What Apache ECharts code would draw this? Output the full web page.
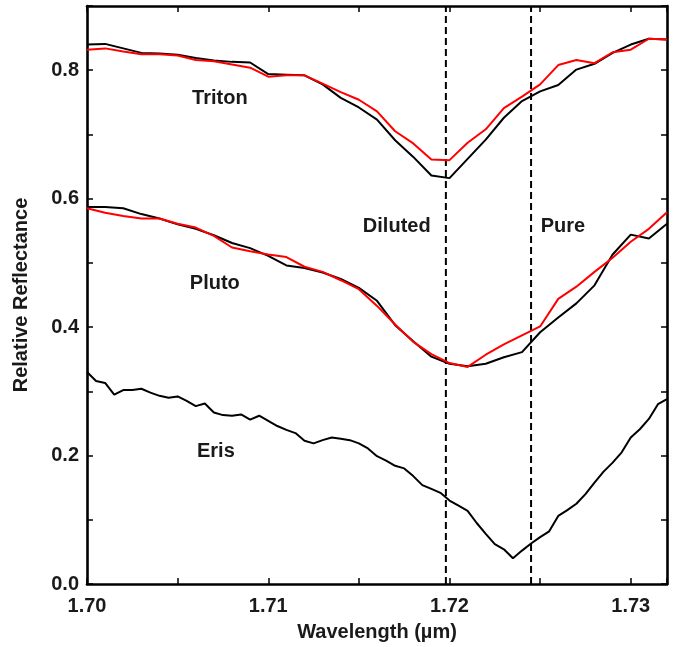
<!DOCTYPE html>
<html>
<head>
<meta charset="utf-8">
<script src="https://cdn.jsdelivr.net/npm/echarts@6/dist/echarts.min.js"></script>
<style>
html,body{margin:0;padding:0;background:#fff;}
#chart{width:678px;height:647px;}
</style>
</head>
<body>
<div id="chart"></div>
<script>
// Wavelength grids (micrometres)
const wlCoarse = [1.700,1.701,1.702,1.703,1.704,1.705,1.706,1.707,1.708,1.709,1.710,1.711,1.712,1.713,1.714,1.715,1.716,1.717,1.718,1.719,1.720,1.721,1.722,1.723,1.724,1.725,1.726,1.727,1.728,1.729,1.730,1.731,1.732];
const wlFine = [1.7000,1.7005,1.7010,1.7015,1.7020,1.7025,1.7030,1.7035,1.7040,1.7045,1.7050,1.7055,1.7060,1.7065,1.7070,1.7075,1.7080,1.7085,1.7090,1.7095,1.7100,1.7105,1.7110,1.7115,1.7120,1.7125,1.7130,1.7135,1.7140,1.7145,1.7150,1.7155,1.7160,1.7165,1.7170,1.7175,1.7180,1.7185,1.7190,1.7195,1.7200,1.7205,1.7210,1.7215,1.7220,1.7225,1.7230,1.7235,1.7240,1.7245,1.7250,1.7255,1.7260,1.7265,1.7270,1.7275,1.7280,1.7285,1.7290,1.7295,1.7300,1.7305,1.7310,1.7315,1.7320];

// Relative reflectance
const tritonObserved = [0.840,0.841,0.834,0.827,0.826,0.824,0.819,0.815,0.813,0.812,0.794,0.793,0.792,0.778,0.757,0.742,0.723,0.691,0.665,0.636,0.632,0.662,0.692,0.726,0.752,0.767,0.777,0.801,0.810,0.827,0.840,0.849,0.848];
const tritonModel    = [0.832,0.834,0.829,0.825,0.825,0.823,0.816,0.814,0.809,0.804,0.790,0.792,0.792,0.779,0.766,0.754,0.736,0.705,0.686,0.661,0.660,0.687,0.708,0.741,0.759,0.778,0.808,0.816,0.811,0.828,0.832,0.849,0.848];
const plutoObserved  = [0.587,0.587,0.585,0.576,0.569,0.560,0.553,0.543,0.531,0.523,0.511,0.496,0.492,0.485,0.475,0.461,0.441,0.403,0.378,0.354,0.343,0.339,0.343,0.353,0.361,0.392,0.415,0.437,0.465,0.513,0.544,0.538,0.561];
const plutoModel     = [0.585,0.578,0.573,0.569,0.569,0.561,0.555,0.542,0.524,0.518,0.513,0.509,0.494,0.486,0.473,0.459,0.433,0.404,0.377,0.358,0.344,0.338,0.357,0.373,0.387,0.401,0.444,0.463,0.486,0.508,0.533,0.553,0.579];
const erisObserved   = [0.330,0.316,0.313,0.295,0.302,0.302,0.304,0.298,0.293,0.290,0.292,0.285,0.277,0.281,0.267,0.263,0.262,0.264,0.256,0.262,0.254,0.246,0.240,0.235,0.223,0.219,0.224,0.228,0.226,
                        0.224,0.219,0.211,0.199,0.192,0.184,0.180,0.168,0.154,0.148,0.142,0.130,0.122,0.114,0.095,0.078,0.062,0.054,0.040,0.052,0.063,0.073,0.082,0.106,0.115,0.125,0.140,0.158,0.175,0.189,0.205,0.228,0.241,0.257,0.280,0.288];

// Boundaries between diluted and pure N2 band positions
const dashedLines = [1.7198, 1.7245];
const yRange = [0, 0.9];

// Text annotations (name, wavelength, reflectance)
const annoNames = ['Triton','Pluto','Eris','Diluted','Pure'];
const annoX = [1.70733, 1.70705, 1.70711, 1.71709, 1.72626];
const annoY = [0.756, 0.468, 0.207, 0.557, 0.557];

const FONT = "'Liberation Sans', Arial, Helvetica, sans-serif";
const TXT = '#1a1a1a';

function zip(xs, ys){ return xs.map((x,i)=>[x, ys[i]]); }

const chart = echarts.init(document.getElementById('chart'), null, {renderer:'canvas'});

const axisLine = {show:true, onZero:false, lineStyle:{color:'#000', width:2.6}};
const axisTick = {show:true, inside:true, length:6, lineStyle:{color:'#000', width:1.5}};

const lineSeries = (data, color, z) => ({
  type:'line', data:data, showSymbol:false, symbol:'none', smooth:false,
  lineStyle:{color:color, width:2}, z:z,
  emphasis:{disabled:true}, silent:true
});

const dashSeries = dashedLines.map(x => ({
  type:'line', data:[[x, yRange[0]],[x, yRange[1]]], showSymbol:false, symbol:'none',
  lineStyle:{color:'#000', width:2, type:[7,4]}, z:2, silent:true, emphasis:{disabled:true}
}));

chart.setOption({
  animation:false,
  backgroundColor:'#fff',
  grid:{left:87, right:11, top:6, bottom:63, containLabel:false},
  xAxis:[{
    type:'value', position:'bottom', min:1.70, max:1.732, interval:0.005,
    axisLine:axisLine, axisTick:axisTick, splitLine:{show:false},
    axisLabel:{margin:12, fontSize:20, fontWeight:'bold', fontFamily:FONT, color:TXT,
      formatter:v => Math.abs(v*100 - Math.round(v*100)) < 1e-6 ? v.toFixed(2) : ''},
    name:'Wavelength (\u00b5m)', nameLocation:'middle', nameGap:38,
    nameTextStyle:{fontSize:20, fontWeight:'bold', fontFamily:FONT, color:TXT}
  },{
    type:'value', position:'top', min:1.70, max:1.732, interval:0.005,
    axisLine:axisLine, axisTick:axisTick, splitLine:{show:false}, axisLabel:{show:false}
  }],
  yAxis:[{
    type:'value', position:'left', min:yRange[0], max:yRange[1], interval:0.1,
    axisLine:axisLine, axisTick:axisTick, splitLine:{show:false},
    axisLabel:{margin:8, fontSize:20, fontWeight:'bold', fontFamily:FONT, color:TXT,
      formatter:v => (Math.round(v*10) % 2 === 0) ? v.toFixed(1) : ''},
    name:'Relative Reflectance', nameLocation:'middle', nameGap:56,
    nameTextStyle:{fontSize:20, fontWeight:'bold', fontFamily:FONT, color:TXT}
  },{
    type:'value', position:'right', min:yRange[0], max:yRange[1], interval:0.1,
    axisLine:axisLine, axisTick:axisTick, splitLine:{show:false}, axisLabel:{show:false}
  }],
  series: dashSeries.concat([
    lineSeries(zip(wlCoarse, tritonObserved), '#000', 3),
    lineSeries(zip(wlCoarse, tritonModel), '#ff0000', 4),
    lineSeries(zip(wlCoarse, plutoObserved), '#000', 3),
    lineSeries(zip(wlCoarse, plutoModel), '#ff0000', 4),
    lineSeries(zip(wlFine, erisObserved), '#000', 3),
    {
      type:'scatter', symbolSize:1, silent:true, z:5,
      itemStyle:{opacity:0},
      data: annoNames.map((n,i)=>({name:n, value:[annoX[i], annoY[i]]})),
      label:{show:true, position:'inside', formatter:p=>p.name, opacity:1,
        fontSize:20, fontWeight:'bold', fontFamily:FONT, color:TXT}
    }
  ])
});
</script>
</body>
</html>
